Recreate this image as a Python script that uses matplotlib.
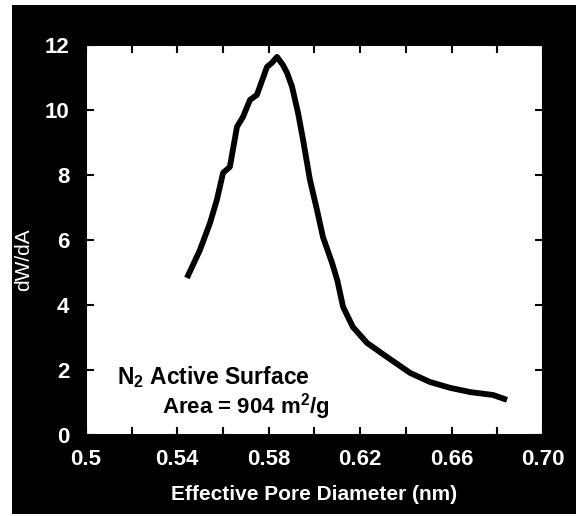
#!/usr/bin/env python3
"""Pore size distribution curve, white plot on a black frame."""
import matplotlib
matplotlib.use("Agg")
import matplotlib.pyplot as plt
from matplotlib.patches import Rectangle

# curve
diameter = [0.5442, 0.5499, 0.5543, 0.5573, 0.5600, 0.5630, 0.5661, 0.5687,
            0.5718, 0.5748, 0.5792, 0.5814, 0.5836, 0.5862, 0.5880, 0.5902,
            0.5928, 0.5950, 0.5980, 0.6011, 0.6037, 0.6077, 0.6100, 0.6125,
            0.6168, 0.6230, 0.6317, 0.6418, 0.6505, 0.6593, 0.6681, 0.6781,
            0.6842]
dwda = [4.83, 5.69, 6.52, 7.23, 8.06, 8.25, 9.48, 9.78,
        10.31, 10.46, 11.32, 11.45, 11.63, 11.38, 11.14, 10.71,
        9.91, 9.08, 7.85, 6.92, 6.09, 5.29, 4.75, 3.94,
        3.32, 2.83, 2.40, 1.91, 1.63, 1.45, 1.32, 1.23,
        1.08]

x_labels = ["0.5", "0.54", "0.58", "0.62", "0.66", "0.70"]
x_label_pos = [0.50, 0.54, 0.58, 0.62, 0.66, 0.70]
x_minor = [0.52, 0.56, 0.60, 0.64, 0.68]
y_ticks = [0, 2, 4, 6, 8, 10, 12]

plt.rcParams['font.family'] = ['Liberation Sans', 'DejaVu Sans']
plt.rcParams['font.weight'] = 'bold'
plt.rcParams['mathtext.fontset'] = 'custom'
plt.rcParams['mathtext.rm'] = 'Liberation Sans:bold'
plt.rcParams['mathtext.bf'] = 'Liberation Sans:bold'

fig = plt.figure(figsize=(5.76, 5.16), dpi=100, facecolor="white")
# black frame behind everything
frame = Rectangle((12 / 576, 2 / 516), 1, 509 / 516, transform=fig.transFigure,
                  facecolor="black", edgecolor="none", zorder=-10)
fig.add_artist(frame)

ax = fig.add_axes([0.149, 0.157, 0.794, 0.756])
ax.set_zorder(5)
ax.set_facecolor("white")
ax.plot(diameter, dwda, color="black", lw=4.2, solid_capstyle="butt",
        solid_joinstyle="round")

ax.set_xlim(0.5, 0.70)
ax.set_ylim(0, 12)
ax.set_xticks(x_label_pos)
ax.set_xticklabels(x_labels)
ax.set_xticks(x_minor, minor=True)
ax.set_yticks(y_ticks)

for s in ax.spines.values():
    s.set_color("black")
    s.set_linewidth(1.5)

ax.tick_params(which="both", direction="in", top=True, right=True,
               length=6, width=1.5, color="black", labelcolor="white",
               labelsize=16)
ax.tick_params(axis="x", pad=10)
ax.tick_params(axis="y", pad=12)

ax.set_xlabel("Effective Pore Diameter (nm)", color="white", fontsize=15,
              fontweight="bold", labelpad=11)
ax.set_ylabel("dW/dA", color="white", fontsize=15, fontweight="normal")
ax.yaxis.set_label_coords(-0.115, 0.45)

ax.text(0.5135, 1.78, r"N$_2$ Active Surface", fontsize=16.5, color="black",
        va="center", ha="left")
ax.text(0.5335, 0.86, r"Area = 904 m$^2$/g", fontsize=16, color="black",
        va="center", ha="left")

fig.savefig("out.png", dpi=100, facecolor=fig.get_facecolor())
